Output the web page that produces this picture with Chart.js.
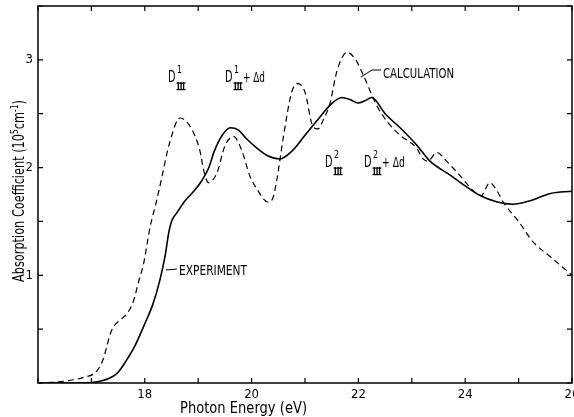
<!DOCTYPE html>
<html>
<head>
<meta charset="utf-8">
<script src="https://cdn.jsdelivr.net/npm/chart.js@4.4.1/dist/chart.umd.min.js"></script>
<style>
  body { margin: 0; background: #fff; }
  #wrap { width: 574px; height: 417px; }
</style>
</head>
<body>
<div id="wrap"><canvas id="absChart"></canvas></div>
<script>
// experiment (solid line)
const expEnergy = [16.0, 16.5, 17.0, 17.2, 17.4, 17.5, 17.63, 17.8, 18.0, 18.15, 18.28, 18.38, 18.45, 18.5, 18.6, 18.75, 18.9, 19.07, 19.2, 19.3, 19.45, 19.6, 19.75, 19.9, 20.1, 20.3, 20.53, 20.75, 21.0, 21.25, 21.47, 21.69, 21.85, 21.99, 22.12, 22.25, 22.5, 22.8, 23.09, 23.34, 23.72, 24.0, 24.28, 24.6, 24.9, 25.2, 25.6, 26.0];
const expAbs    = [0, 0, 0.005, 0.02, 0.06, 0.1, 0.19, 0.33, 0.55, 0.73, 0.95, 1.18, 1.4, 1.5, 1.58, 1.69, 1.77, 1.88, 2.0, 2.15, 2.3, 2.37, 2.35, 2.27, 2.18, 2.11, 2.08, 2.15, 2.3, 2.45, 2.58, 2.65, 2.63, 2.6, 2.62, 2.65, 2.5, 2.36, 2.21, 2.06, 1.93, 1.83, 1.74, 1.68, 1.66, 1.69, 1.76, 1.78];

// calculation (dashed line)
const calcEnergy = [16.0, 16.25, 16.54, 16.84, 17.1, 17.22, 17.35, 17.41, 17.55, 17.66, 17.78, 17.9, 17.97, 18.1, 18.2, 18.28, 18.47, 18.66, 18.85, 19.03, 19.1, 19.19, 19.35, 19.5, 19.66, 19.8, 19.97, 20.1, 20.31, 20.4, 20.47, 20.6, 20.75, 20.87, 21.0, 21.15, 21.24, 21.35, 21.47, 21.6, 21.79, 21.95, 22.09, 22.34, 22.55, 22.78, 23.09, 23.21, 23.3, 23.47, 23.65, 23.84, 24.21, 24.3, 24.46, 24.6, 24.71, 25.0, 25.27, 25.6, 26.0];
const calcAbs    = [0, 0.005, 0.02, 0.05, 0.11, 0.22, 0.45, 0.52, 0.59, 0.64, 0.75, 0.97, 1.09, 1.45, 1.65, 1.82, 2.24, 2.46, 2.38, 2.16, 1.98, 1.86, 1.95, 2.2, 2.29, 2.18, 1.92, 1.8, 1.68, 1.72, 1.88, 2.3, 2.7, 2.78, 2.7, 2.38, 2.36, 2.45, 2.6, 2.9, 3.07, 3.0, 2.86, 2.58, 2.42, 2.3, 2.18, 2.08, 2.06, 2.14, 2.06, 1.96, 1.76, 1.74, 1.86, 1.78, 1.68, 1.5, 1.31, 1.17, 1.0];

const xLabels = [18, 20, 22, 24, 26];
const yLabels = [1, 2, 3];

const FONT = "'Liberation Sans Narrow', 'DejaVu Sans Condensed', 'Roboto Condensed', 'Liberation Sans', sans-serif";

const toPoints = (xs, ys) => xs.map((x, i) => ({ x: x, y: ys[i] }));

// draws a run of text pieces, squeezed/stretched to a given width
function richText(ctx, parts, x, y, width) {
    let total = 0;
    parts.forEach(p => {
        ctx.font = (p[3] ? 'bold ' : '') + p[1] + 'px ' + FONT;
        total += ctx.measureText(p[0]).width;
    });
    ctx.save();
    ctx.translate(x, y);
    ctx.scale(width / total, 1);
    let cx = 0;
    parts.forEach(p => {
        ctx.font = (p[3] ? 'bold ' : '') + p[1] + 'px ' + FONT;
        ctx.fillText(p[0], cx, p[2] || 0);
        cx += ctx.measureText(p[0]).width;
    });
    ctx.restore();
}

// D with superscript and barred roman III subscript
function dLabel(ctx, x, y, sup) {
    richText(ctx, [['D', 15, 0]], x, y, 7.5);
    richText(ctx, [[sup, 11, 0]], x + 9, y - 9, 5);
    richText(ctx, [['III', 8, 0, true]], x + 9, y + 7, 8);
    ctx.fillRect(x + 8.5, y + 0.5, 9, 1.2);
    ctx.fillRect(x + 8.5, y + 7, 9, 1.2);
}

const framePlugin = {
    id: 'frame',
    afterDraw(chart) {
        const ctx = chart.ctx;
        const a = chart.chartArea;
        const xs = chart.scales.x, ys = chart.scales.y;
        ctx.save();
        ctx.strokeStyle = '#000';
        ctx.fillStyle = '#000';
        ctx.lineWidth = 1.5;
        ctx.strokeRect(a.left, a.top, a.right - a.left, a.bottom - a.top);
        ctx.lineWidth = 1.2;
        ctx.beginPath();
        xs.ticks.forEach(t => {
            const px = xs.getPixelForValue(t.value);
            ctx.moveTo(px, a.bottom); ctx.lineTo(px, a.bottom - 5);
            ctx.moveTo(px, a.top); ctx.lineTo(px, a.top + 5);
        });
        ys.ticks.forEach(t => {
            const py = ys.getPixelForValue(t.value);
            ctx.moveTo(a.left, py); ctx.lineTo(a.left + 5, py);
            ctx.moveTo(a.right, py); ctx.lineTo(a.right - 5, py);
        });
        ctx.stroke();

        ctx.textAlign = 'left';
        ctx.textBaseline = 'alphabetic';

        // axis titles
        richText(ctx, [['Photon Energy (eV)', 16, 0]], 180, 413, 127);
        ctx.save();
        ctx.translate(24, 282);
        ctx.rotate(-Math.PI / 2);
        richText(ctx, [['Absorption Coefficient (10', 15, 0], ['5', 10, -6], ['cm', 15, 0], ['-1', 10, -6], [')', 15, 0]], 0, 0, 182);
        ctx.restore();

        // curve names with leaders
        ctx.lineWidth = 1;
        ctx.beginPath();
        ctx.moveTo(361, 77); ctx.lineTo(372, 70); ctx.lineTo(381, 70);
        ctx.moveTo(166, 270); ctx.lineTo(177, 269);
        ctx.stroke();
        richText(ctx, [['CALCULATION', 14, 0]], 383, 78, 71);
        richText(ctx, [['EXPERIMENT', 14, 0]], 179, 275, 68);

        // transition labels
        dLabel(ctx, 168, 82, '1');
        dLabel(ctx, 225, 82, '1');
        richText(ctx, [['+ \u0394d', 14, 0]], 243, 82, 22);
        dLabel(ctx, 325, 167, '2');
        dLabel(ctx, 364, 167, '2');
        richText(ctx, [['+ \u0394d', 14, 0]], 382, 167, 23);
        ctx.restore();
    }
};

new Chart(document.getElementById('absChart'), {
    type: 'line',
    data: {
        datasets: [{
            label: 'EXPERIMENT',
            data: toPoints(expEnergy, expAbs),
            borderColor: '#000',
            borderWidth: 1.6,
            pointRadius: 0,
            cubicInterpolationMode: 'monotone',
            fill: false
        }, {
            label: 'CALCULATION',
            data: toPoints(calcEnergy, calcAbs),
            borderColor: '#000',
            borderWidth: 1.2,
            borderDash: [6, 4],
            pointRadius: 0,
            cubicInterpolationMode: 'monotone',
            fill: false
        }]
    },
    options: {
        responsive: true,
        maintainAspectRatio: false,
        animation: false,
        layout: { padding: { top: 6, right: 2, left: 0, bottom: 0 } },
        plugins: { legend: { display: false }, tooltip: { enabled: false } },
        scales: {
            x: {
                type: 'linear',
                min: 16,
                max: 26,
                grid: { display: false, drawTicks: false },
                border: { display: false },
                ticks: {
                    stepSize: 1,
                    autoSkip: false,
                    maxRotation: 0,
                    padding: 4,
                    color: '#000',
                    font: { family: FONT, size: 13 },
                    callback: v => xLabels.includes(v) ? String(v) : ''
                },
                afterFit: s => { s.height = 34; s.paddingLeft = 0; s.paddingRight = 0; }
            },
            y: {
                min: 0,
                max: 3.5,
                grid: { display: false, drawTicks: false },
                border: { display: false },
                ticks: {
                    stepSize: 0.5,
                    autoSkip: false,
                    padding: 5,
                    color: '#000',
                    font: { family: FONT, size: 13 },
                    callback: v => yLabels.includes(v) ? String(v) : ''
                },
                afterFit: s => { s.width = 38; s.paddingTop = 0; s.paddingBottom = 0; }
            }
        }
    },
    plugins: [framePlugin]
});
</script>
</body>
</html>
